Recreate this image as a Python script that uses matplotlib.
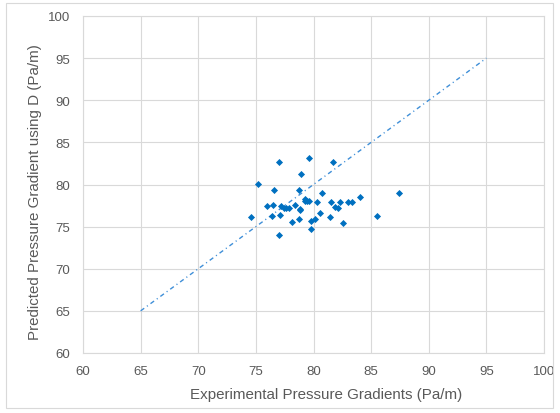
import numpy as np
import matplotlib.pyplot as plt

# valores
experimental = [74.6, 75.2, 76.0, 76.5, 76.6, 76.4, 77.0, 77.0, 77.1, 77.2,
                77.4, 77.6, 77.9, 78.1, 78.4, 78.7, 78.7, 78.8, 78.9, 78.8,
                79.3, 79.3, 79.4, 79.6, 79.6, 79.8, 79.8, 80.1, 80.3, 80.6,
                80.7, 81.4, 81.5, 81.7, 81.9, 82.1, 82.3, 82.6, 83.0, 83.3,
                84.0, 85.5, 87.4]
predicted = [76.2, 80.1, 77.5, 77.6, 79.3, 76.3, 82.7, 74.0, 76.4, 77.5,
             77.2, 77.2, 77.2, 75.6, 77.6, 79.3, 75.9, 77.1, 81.3, 77.0,
             78.3, 78.0, 78.1, 78.1, 83.2, 74.7, 75.7, 75.9, 77.9, 76.6,
             79.0, 76.1, 77.9, 82.7, 77.3, 77.2, 77.9, 75.4, 77.9, 77.9,
             78.5, 76.3, 79.0]
ref_line = [65, 95]

plt.rcParams['font.family'] = ['Liberation Sans', 'DejaVu Sans']
plt.rcParams['lines.scale_dashes'] = False
cinza = '#595959'

fig = plt.figure(figsize=(5.6, 4.14), dpi=100)
ax = fig.add_axes([83/560, 1 - 354/414, (544 - 83)/560, (354 - 17)/414])

ax.plot(ref_line, ref_line, color='#3F8FD8', lw=1.0, dashes=(3.2, 2.4, 0.8, 2.4), zorder=2)
ax.scatter(experimental, predicted, marker='D', s=13, color='#0070C0', lw=0, zorder=3)

ax.set_xlim(60, 100)
ax.set_ylim(60, 100)
ax.set_xticks(np.arange(60, 101, 5))
ax.set_yticks(np.arange(60, 101, 5))
ax.grid(True, color='#D9D9D9', lw=0.8)
ax.set_axisbelow(True)
for s in ax.spines.values():
    s.set_color('#D9D9D9')
    s.set_linewidth(0.8)
ax.tick_params(length=0, labelsize=9.5, colors=cinza)
ax.tick_params(axis='x', pad=9)
ax.tick_params(axis='y', pad=9)

fig.text(326/560, 1 - 395/414, 'Experimental Pressure Gradients (Pa/m)',
         fontsize=10.9, color=cinza, ha='center', va='center')
fig.text(35/560, 1 - 192/414, 'Predicted Pressure Gradient using D (Pa/m)',
         fontsize=10.9, color=cinza, ha='center', va='center', rotation=90)

# borda da figura
fig.patches.append(plt.Rectangle((6/560, 1 - 409/414), 547/560, 405/414,
                                 transform=fig.transFigure, fill=False,
                                 edgecolor='#D9D9D9', lw=0.8))

fig.savefig('out.png', dpi=100)
